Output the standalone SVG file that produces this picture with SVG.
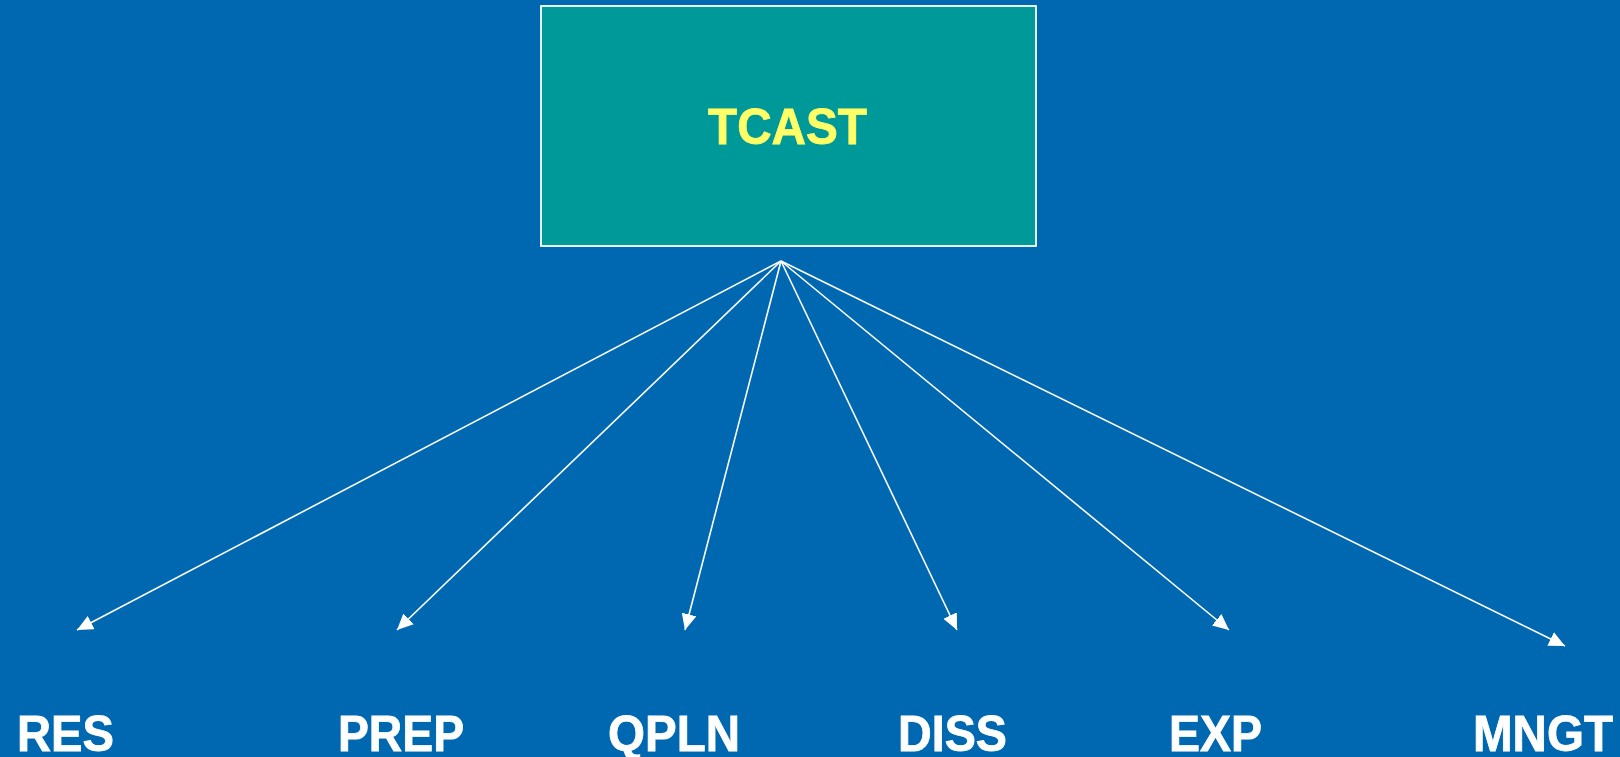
<svg xmlns="http://www.w3.org/2000/svg" width="1620" height="757" viewBox="0 0 1620 757">
  <defs>
    <style>
      .bg { fill: #0068B0; }
      .box { fill: #009999; stroke: #FFFFFF; stroke-width: 1.8; }
      .title { font-family: "Liberation Sans", Arial, sans-serif; font-weight: bold; font-size: 50px; fill: #FFFF66; stroke: #FFFF66; stroke-width: 0.8; }
      .label { font-family: "Liberation Sans", Arial, sans-serif; font-weight: bold; font-size: 50px; fill: #FFFFFF; stroke: #FFFFFF; stroke-width: 0.8; }
      .conn { stroke: #FFFFFF; stroke-width: 1.6; fill: none; marker-end: url(#arrow); }
    </style>
    <marker id="arrow" markerUnits="userSpaceOnUse" markerWidth="17" markerHeight="16" refX="16" refY="7.5" orient="auto">
      <path d="M0,0 L16,7.5 L0,15 Z" fill="#FFFFFF"/>
    </marker>
  </defs>
  <rect class="bg" x="0" y="0" width="1620" height="757"/>

  <g id="node-tcast">
    <rect class="box" x="541" y="6" width="495" height="240"/>
    <text class="title" x="708" y="144" textLength="159" lengthAdjust="spacingAndGlyphs">TCAST</text>
  </g>

  <g id="connectors">
    <line class="conn" x1="781" y1="261" x2="77" y2="630"/>
    <line class="conn" x1="781" y1="261" x2="397" y2="630"/>
    <line class="conn" x1="781" y1="261" x2="685" y2="630"/>
    <line class="conn" x1="781" y1="261" x2="957" y2="630"/>
    <line class="conn" x1="781" y1="261" x2="1229" y2="630"/>
    <line class="conn" x1="781" y1="261" x2="1565" y2="646"/>
  </g>

  <g id="node-res">
    <text class="label" x="17" y="751" textLength="97" lengthAdjust="spacingAndGlyphs">RES</text>
  </g>
  <g id="node-prep">
    <text class="label" x="338" y="751" textLength="126" lengthAdjust="spacingAndGlyphs">PREP</text>
  </g>
  <g id="node-qpln">
    <text class="label" x="608" y="751" textLength="132" lengthAdjust="spacingAndGlyphs">QPLN</text>
  </g>
  <g id="node-diss">
    <text class="label" x="898" y="751" textLength="109" lengthAdjust="spacingAndGlyphs">DISS</text>
  </g>
  <g id="node-exp">
    <text class="label" x="1169" y="751" textLength="93" lengthAdjust="spacingAndGlyphs">EXP</text>
  </g>
  <g id="node-mngt">
    <text class="label" x="1473" y="751" textLength="140" lengthAdjust="spacingAndGlyphs">MNGT</text>
  </g>
</svg>
